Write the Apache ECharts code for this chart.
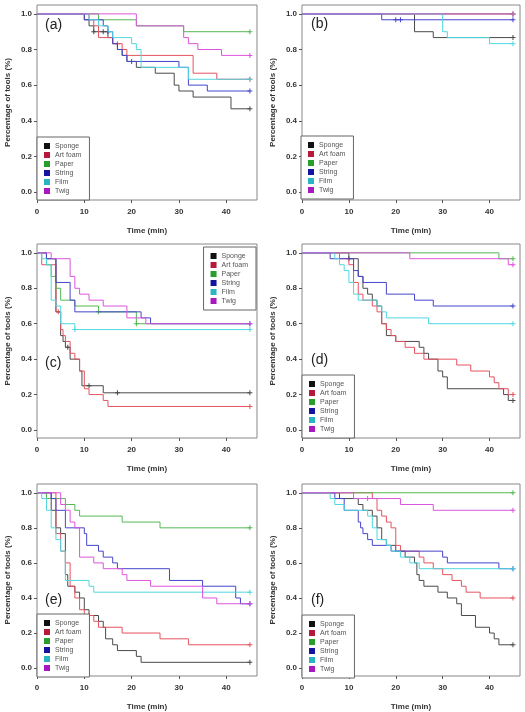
<!DOCTYPE html>
<html>
<head>
<meta charset="utf-8">
<script src="https://cdn.jsdelivr.net/npm/echarts@6/dist/echarts.min.js"></script>
<style>
  html, body { margin: 0; padding: 0; background: #fff; }
  #main { width: 525px; height: 712px; }
</style>
</head>
<body>
<div id="main"></div>
<script>
// series order in every panel
var MATERIALS = ['Sponge', 'Art foam', 'Paper', 'String', 'Film', 'Twig'];
var PANEL_LABELS = ['(a)', '(b)', '(c)', '(d)', '(e)', '(f)'];
var X_TICKS = [0, 10, 20, 30, 40];
var Y_TICKS = [0, 0.2, 0.4, 0.6, 0.8, 1];

// Kaplan-Meier steps [time, proportion], one list per material
var curvesA = [
  [[0,1],[10,0.967],[11,0.933],[12,0.9],[15,0.867],[16,0.833],[17,0.8],[18,0.767],[19,0.733],[21,0.7],[25,0.667],[29,0.6],[30,0.567],[33,0.533],[41,0.467],[45,0.467]],
  [[0,1],[11,0.967],[12,0.933],[13,0.867],[16,0.833],[18,0.8],[19,0.767],[33,0.667],[38,0.633],[45,0.633]],
  [[0,1],[13,0.967],[21,0.933],[31,0.9],[45,0.9]],
  [[0,1],[10,0.967],[14,0.933],[15,0.9],[16,0.833],[17,0.8],[18,0.767],[19,0.733],[30,0.7],[32,0.6],[36,0.567],[45,0.567]],
  [[0,1],[11,0.967],[13,0.933],[15,0.9],[16,0.867],[20,0.833],[21,0.8],[22,0.7],[32,0.633],[45,0.633]],
  [[0,1],[21,0.933],[31,0.867],[32,0.833],[34,0.8],[39,0.767],[45,0.767]]
];
var curvesB = [
  [[0,1],[24,0.9],[28,0.867],[45,0.867]],
  [[0,1],[45,1]],
  [[0,1],[45,1]],
  [[0,1],[17,0.967],[45,0.967]],
  [[0,1],[30,0.9],[31,0.867],[40,0.833],[45,0.833]],
  [[0,1],[45,1]]
];
var curvesC = [
  [[0,1],[2,0.967],[4,0.667],[5,0.533],[5.5,0.5],[6,0.467],[7,0.4],[9,0.333],[9.5,0.25],[14,0.21],[45,0.21]],
  [[0,1],[1,0.933],[4,0.667],[5,0.567],[5.5,0.533],[6,0.5],[7,0.433],[8,0.4],[9,0.333],[10,0.233],[11,0.2],[14,0.167],[15,0.133],[45,0.133]],
  [[0,1],[2,0.933],[3,0.867],[4,0.8],[5,0.733],[8,0.7],[13,0.667],[21,0.6],[45,0.6]],
  [[0,1],[2,0.967],[4,0.833],[7,0.733],[8,0.667],[22,0.633],[24,0.6],[45,0.6]],
  [[0,1],[1,0.967],[2,0.933],[3,0.733],[4,0.7],[5,0.6],[8,0.567],[45,0.567]],
  [[0,1],[3,0.967],[7,0.867],[8,0.8],[9,0.767],[11,0.733],[14,0.7],[19,0.633],[23,0.6],[45,0.6]]
];
var curvesD = [
  [[0,1],[10,0.967],[12,0.867],[13,0.8],[14,0.767],[15,0.733],[16,0.7],[17,0.6],[18,0.533],[20,0.5],[25,0.467],[26,0.433],[27,0.4],[29,0.333],[30,0.3],[31,0.233],[43,0.2],[44,0.167],[45,0.167]],
  [[0,1],[8,0.967],[10,0.933],[11,0.833],[12,0.767],[13,0.733],[15,0.7],[16,0.667],[17,0.6],[18,0.567],[19,0.533],[20,0.5],[22,0.467],[24,0.433],[26,0.4],[33,0.367],[36,0.333],[40,0.3],[41,0.267],[42,0.233],[44,0.2],[45,0.2]],
  [[0,1],[42,0.967],[45,0.967]],
  [[0,1],[6,0.967],[11,0.9],[12,0.867],[13,0.833],[18,0.767],[24,0.733],[28,0.7],[45,0.7]],
  [[0,1],[7,0.967],[8,0.933],[9,0.9],[10,0.833],[11,0.767],[12,0.733],[16,0.7],[17,0.667],[18,0.633],[27,0.6],[45,0.6]],
  [[0,1],[23,0.967],[44,0.933],[45,0.933]]
];
var curvesE = [
  [[0,1],[3,0.9],[4,0.8],[5,0.767],[6,0.533],[6.5,0.467],[8,0.433],[9,0.4],[10,0.333],[11,0.3],[13,0.267],[14,0.233],[14.5,0.167],[16,0.133],[17,0.1],[21,0.067],[22,0.033],[45,0.033]],
  [[0,1],[4,0.767],[5,0.667],[6,0.6],[7,0.467],[8,0.4],[9,0.333],[10,0.3],[12,0.267],[13,0.233],[18,0.2],[26,0.167],[32,0.133],[45,0.133]],
  [[0,1],[2,0.967],[6,0.933],[8,0.9],[9,0.867],[18,0.833],[26,0.8],[45,0.8]],
  [[0,1],[3,0.967],[4,0.9],[6,0.8],[10,0.767],[10.5,0.7],[13,0.667],[14,0.633],[16,0.6],[17,0.567],[28,0.5],[35,0.467],[42,0.4],[43,0.367],[45,0.367]],
  [[0,1],[1,0.967],[2,0.9],[3,0.8],[4,0.733],[5,0.667],[6,0.5],[11,0.467],[12,0.433],[45,0.433]],
  [[0,1],[5,0.933],[6,0.9],[7,0.833],[8,0.8],[9,0.633],[12,0.6],[14,0.567],[18,0.533],[19,0.5],[24,0.467],[35,0.4],[38,0.367],[45,0.367]]
];
var curvesF = [
  [[0,1],[8,0.967],[12,0.933],[13,0.9],[15,0.867],[16,0.8],[17,0.733],[18,0.7],[20,0.667],[22,0.633],[24,0.6],[24.5,0.533],[25,0.5],[26,0.467],[29,0.433],[31,0.4],[33,0.367],[34,0.3],[37,0.233],[40,0.2],[41,0.167],[42,0.133],[45,0.133]],
  [[0,1],[15,0.967],[16,0.9],[17,0.867],[18,0.833],[19,0.8],[20,0.7],[21,0.667],[25,0.633],[26,0.6],[28,0.567],[30,0.533],[32,0.5],[34,0.467],[35,0.433],[38,0.4],[45,0.4]],
  [[0,1],[45,1]],
  [[0,1],[7,0.967],[9,0.9],[12,0.833],[12.5,0.8],[13,0.767],[14,0.733],[15,0.7],[19,0.667],[30,0.633],[31,0.6],[42,0.567],[45,0.567]],
  [[0,1],[6,0.967],[7,0.933],[9,0.9],[14,0.867],[15,0.8],[16,0.733],[18,0.7],[19,0.667],[21,0.633],[23,0.6],[25,0.567],[45,0.567]],
  [[0,1],[11,0.967],[21,0.933],[28,0.9],[45,0.9]]
];

// censored times ("+" marks), one list per material
var censorA = [[12,14,45],[17,45],[45],[15,20,45],[45],[45]];
var censorB = [[45],[45],[45],[20,21,45],[45],[45]];
var censorC = [[6.5,11,17,45],[4.5,45],[13,21],[45],[8,45],[45]];
var censorD = [[10,45],[45],[45],[45],[45],[45]];
var censorE = [[45],[11,45],[45],[45],[45],[45]];
var censorF = [[45],[45],[45],[45],[45],[14,45]];

var CURVES = [curvesA, curvesB, curvesC, curvesD, curvesE, curvesF];
var CENSOR = [censorA, censorB, censorC, censorD, censorE, censorF];

var LINE_COLORS = ['#4a4a4a', '#e5535f', '#55b855', '#4545cc', '#4fd8e0', '#dc55dc'];
var LEGEND_COLORS = ['#111111', '#b8183a', '#2a9e2a', '#1414a0', '#2ab4c4', '#a818c0'];
var FONT = 'Liberation Sans, Arial, sans-serif';

var GRIDS = [
  { left: 37, top: 5, width: 220, height: 195 },
  { left: 302, top: 5, width: 218, height: 195 },
  { left: 37, top: 244, width: 220, height: 194 },
  { left: 302, top: 244, width: 218, height: 194 },
  { left: 37, top: 484, width: 220, height: 193 },
  { left: 302, top: 484, width: 218, height: 193 }
];
var LEGEND_POS = [
  { left: 37, bottom: 512 },
  { left: 301, bottom: 513 },
  { right: 269, top: 247 },
  { left: 302, bottom: 274 },
  { left: 37, bottom: 35 },
  { left: 302, bottom: 34 }
];
var LABEL_POS = [[45, 25], [311, 24], [45, 363], [311, 360], [45, 600], [311, 600]];

var PLUS = 'path://M4,0H6V10H4Z M0,4H10V6H0Z';

function valueAt(curve, t) {
  var v = curve[0][1];
  curve.forEach(function (p) { if (p[0] <= t) v = p[1]; });
  return v;
}

var myChart = echarts.init(document.getElementById('main'));

var xAxes = [], yAxes = [], series = [], legends = [], graphics = [];

GRIDS.forEach(function (g, i) {
  xAxes.push({
    type: 'value', gridIndex: i, min: 0, max: 46.5,
    axisLine: { show: false, onZero: false },
    splitLine: { show: false },
    axisTick: { show: true, length: 3, customValues: X_TICKS, lineStyle: { color: '#555' } },
    axisLabel: { customValues: X_TICKS, fontSize: 8, fontWeight: 'bold', color: '#333', margin: 8, fontFamily: FONT },
    name: 'Time (min)', nameLocation: 'middle', nameGap: 27,
    nameTextStyle: { fontSize: 8, fontWeight: 'bold', color: '#333', fontFamily: FONT }
  });
  yAxes.push({
    type: 'value', gridIndex: i, min: -0.045, max: 1.05,
    axisLine: { show: false, onZero: false },
    splitLine: { show: false },
    axisTick: { show: true, length: 3, customValues: Y_TICKS, lineStyle: { color: '#555' } },
    axisLabel: {
      customValues: Y_TICKS, fontSize: 8, fontWeight: 'bold', color: '#333', margin: 5, fontFamily: FONT,
      formatter: function (v) { return v.toFixed(1); }
    },
    name: 'Percentage of tools (%)', nameLocation: 'middle', nameGap: 25,
    nameTextStyle: { fontSize: 8, fontWeight: 'bold', color: '#333', fontFamily: FONT }
  });

  MATERIALS.forEach(function (m, j) {
    var curve = CURVES[i][j];
    series.push({
      name: m, type: 'line', step: 'end',
      xAxisIndex: i, yAxisIndex: i,
      data: curve,
      symbol: 'none', silent: true,
      color: LINE_COLORS[j],
      lineStyle: { width: 1, color: LINE_COLORS[j] }
    });
  });
  MATERIALS.forEach(function (m, j) {
    var curve = CURVES[i][j];
    series.push({
      name: m, type: 'scatter',
      xAxisIndex: i, yAxisIndex: i,
      data: CENSOR[i][j].map(function (t) { return [t, valueAt(curve, t)]; }),
      symbol: PLUS, symbolSize: 5, silent: true,
      itemStyle: { color: LINE_COLORS[j], opacity: 1 }
    });
  });

  legends.push(Object.assign({
    orient: 'vertical', icon: 'rect', selectedMode: false,
    itemWidth: 6, itemHeight: 6, itemGap: 1,
    padding: [5, 8, 5, 7],
    borderColor: '#666', borderWidth: 1, backgroundColor: '#fff',
    textStyle: { fontSize: 7, color: '#555', lineHeight: 8, fontFamily: FONT },
    data: MATERIALS.map(function (m, j) {
      return { name: m, itemStyle: { color: LEGEND_COLORS[j] } };
    })
  }, LEGEND_POS[i]));

  graphics.push({
    type: 'text', x: LABEL_POS[i][0], y: LABEL_POS[i][1],
    style: { text: PANEL_LABELS[i], fontSize: 14, fontFamily: FONT, fill: '#222', verticalAlign: 'middle' }
  });
});

var option = {
  animation: false,
  grid: GRIDS.map(function (g) {
    return Object.assign({ show: true, borderColor: '#888', borderWidth: 1, backgroundColor: 'transparent' }, g);
  }),
  xAxis: xAxes,
  yAxis: yAxes,
  legend: legends,
  graphic: graphics,
  series: series
};

myChart.setOption(option);
</script>
</body>
</html>
